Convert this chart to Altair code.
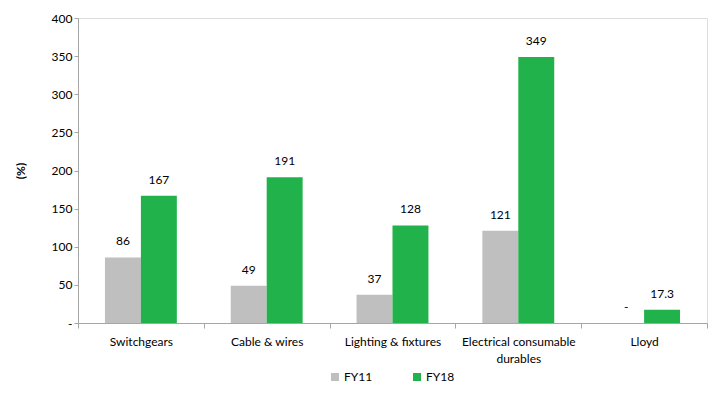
import altair as alt
import pandas as pd

categories = ["Switchgears", "Cable & wires", "Lighting & fixtures",
              "Electrical consumable durables", "Lloyd"]
fy11 = [86, 49, 37, 121, 0]
fy18 = [167, 191, 128, 349, 17.3]
series = ["FY11", "FY18"]
colors = ["#BFBFBF", "#21B24B"]
y_ticks = [0, 50, 100, 150, 200, 250, 300, 350, 400]

rows = []
for c, a, b in zip(categories, fy11, fy18):
    rows.append({"cat": c, "series": "FY11", "value": a,
                 "label": "-" if a == 0 else f"{a:g}"})
    rows.append({"cat": c, "series": "FY18", "value": b,
                 "label": "-" if b == 0 else f"{b:g}"})
df = pd.DataFrame(rows)

FONT = "Lato"

x = alt.X("cat:N", sort=categories, title=None,
          scale=alt.Scale(paddingInner=0, paddingOuter=0),
          axis=alt.Axis(labelAngle=0, labelFontSize=12, labelColor="#000000",
                        labelFont=FONT, domainColor="#A6A6A6", tickColor="#A6A6A6",
                        tickBand="extent", tickSize=5, labelPadding=8,
                        labelLineHeight=17,
                        labelExpr="datum.label == 'Electrical consumable durables' ? ['Electrical consumable', 'durables'] : datum.label"))
xoff = alt.XOffset("series:N", sort=series,
                   scale=alt.Scale(paddingInner=0, paddingOuter=0.75))
y = alt.Y("value:Q", title="(%)",
          scale=alt.Scale(domain=[0, 400], nice=False),
          axis=alt.Axis(values=y_ticks, grid=False,
                        labelOverlap=False, tickCount=9,
                        labelFontSize=12, labelColor="#000000", labelFont=FONT,
                        labelExpr="datum.value == 0 ? '-' : datum.label",
                        domainColor="#A6A6A6", tickColor="#A6A6A6", tickSize=4,
                        titleFont=FONT, titleFontSize=12, titleFontWeight="bold",
                        titleColor="#000000", titlePadding=24))

bars = alt.Chart(df).mark_bar().encode(
    x=x, xOffset=xoff, y=y,
    color=alt.Color("series:N", sort=series,
                    scale=alt.Scale(domain=series, range=colors),
                    legend=alt.Legend(title=None, orient="none", direction="horizontal",
                                      legendX=251, legendY=353, symbolType="square",
                                      symbolSize=64, symbolStrokeWidth=0,
                                      labelFont=FONT, labelFontSize=12,
                                      labelColor="#000000", columnPadding=38,
                                      labelOffset=3)),
)

labels = alt.Chart(df).mark_text(baseline="bottom", dy=-9, fontSize=12,
                                 font=FONT, color="#000000").encode(
    x=x, xOffset=xoff, y=y, text="label:N")

chart = (bars + labels).properties(
    width=629, height=305,
    autosize=alt.AutoSizeParams(type="none"),
    padding={"left": 78, "top": 18, "right": 11, "bottom": 73},
).configure_view(stroke=None).configure(background="#FFFFFF")

chart.save("out.html", embed_options={"renderer": "svg", "actions": False})
